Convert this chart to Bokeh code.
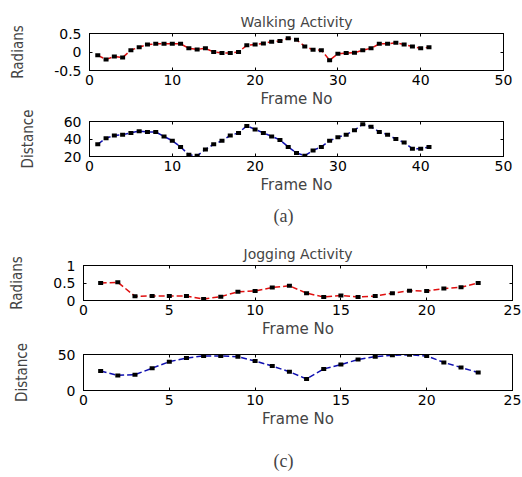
from bokeh.plotting import figure
from bokeh.layouts import column, row
from bokeh.models import FixedTicker, LinearAxis, Title, Range1d
from bokeh.embed import file_html
from bokeh.resources import INLINE

# ---------------- data ----------------
walk_frames = list(range(1, 42))
walk_radians = [-0.09, -0.2, -0.12, -0.15, 0.05, 0.13, 0.2, 0.22, 0.22, 0.22,
                0.22, 0.1, 0.07, 0.1, 0.0, -0.03, -0.03, 0.0, 0.18, 0.2,
                0.23, 0.28, 0.3, 0.37, 0.33, 0.15, 0.06, 0.05, -0.22, -0.05,
                -0.03, -0.02, 0.05, 0.1, 0.22, 0.22, 0.25, 0.2, 0.15, 0.1, 0.13]
walk_distance = [34, 41, 44, 45, 47, 49, 48, 48, 43, 38,
                 31, 22, 21, 28, 34, 38, 44, 47, 55, 51,
                 47, 43, 39, 31, 24, 21, 27, 31, 38, 42,
                 45, 50, 57, 54, 48, 45, 40, 36, 29, 29, 31]
jog_frames = list(range(1, 24))
jog_radians = [0.5, 0.52, 0.12, 0.13, 0.13, 0.13, 0.04, 0.11, 0.25, 0.27,
               0.37, 0.42, 0.21, 0.1, 0.14, 0.1, 0.13, 0.21, 0.28, 0.27,
               0.34, 0.38, 0.5]
jog_distance = [27, 21, 22, 31, 40, 45, 48, 48, 47, 41,
                34, 26, 16, 30, 36, 43, 47, 49, 49.5, 48,
                39, 32, 25]

walk_xticks = [0, 10, 20, 30, 40, 50]
jog_xticks = [0, 5, 10, 15, 20, 25]
rad_walk_yticks = [-0.5, 0, 0.5]
rad_walk_ylabels = {-0.5: "-0.5", 0: "0", 0.5: "0.5"}
dist_walk_yticks = [20, 40, 60]
rad_jog_yticks = [0, 0.5, 1]
rad_jog_ylabels = {0: "0", 0.5: "0.5", 1: "1"}
dist_jog_yticks = [0, 50]

SANS = "DejaVu Sans"
NARROW = "DejaVu Sans Condensed"
SERIF = "Liberation Serif"
RED = "#e01010"
BLUE = "#1010b0"


def panel(xs, ys, xr, yr, xticks, yticks, ylabel, color, width, height,
          left, right, top, bottom, title=None, caption=None, cap_offset=0,
          cap_standoff=10, overrides=None):
    p = figure(width=width, height=height, output_backend="svg",
               toolbar_location=None, x_range=Range1d(*xr), y_range=Range1d(*yr),
               min_border_left=left, min_border_right=right,
               min_border_top=top, min_border_bottom=bottom,
               x_axis_label="Frame No", y_axis_label=ylabel)
    p.grid.visible = False
    p.outline_line_color = "black"
    p.outline_line_width = 1
    p.background_fill_color = "white"
    p.border_fill_color = "white"

    for ax, ticks in ((p.xaxis[0], xticks), (p.yaxis[0], yticks)):
        ax.ticker = FixedTicker(ticks=ticks)
        ax.major_tick_in = 3
        ax.major_tick_out = 0
        ax.minor_tick_line_color = None
        ax.axis_line_color = "black"
        ax.major_tick_line_color = "black"
        ax.major_label_text_font = SANS
        ax.major_label_text_font_size = "14px"
        ax.major_label_text_color = "black"
    p.xaxis[0].major_label_standoff = 4
    p.xaxis[0].axis_label_standoff = 2
    p.xaxis[0].axis_label_text_font = SANS
    p.xaxis[0].axis_label_text_font_size = "15px"
    p.xaxis[0].axis_label_text_font_style = "normal"
    p.yaxis[0].major_label_standoff = 8
    p.yaxis[0].axis_label_standoff = 24
    p.yaxis[0].axis_label_text_font = NARROW
    p.yaxis[0].axis_label_text_font_size = "15px"
    p.yaxis[0].axis_label_text_font_style = "normal"
    if overrides:
        p.yaxis[0].major_label_overrides = overrides

    for side, ticks in (("above", xticks), ("right", yticks)):
        ax = LinearAxis(ticker=FixedTicker(ticks=ticks),
                        major_label_text_color=None,
                        major_label_standoff=0, major_tick_in=3,
                        major_tick_out=0, minor_tick_line_color=None,
                        axis_line_color="black")
        p.add_layout(ax, side)

    p.line(xs, ys, line_color=color, line_width=1.5, line_dash="6 3")
    p.rect(xs, ys, width=5, height=4, width_units="screen",
           height_units="screen", fill_color="black", line_color=None)

    if title:
        p.title.text = title
        p.title.align = "center"
        p.title.text_font = SANS
        p.title.text_font_size = "14px"
        p.title.text_font_style = "normal"
        p.title.standoff = 7
    if caption:
        cap = Title(text=caption, align="left", offset=cap_offset,
                    text_font=SERIF, text_font_size="18px",
                    text_font_style="normal", standoff=cap_standoff)
        p.add_layout(cap, "below")
    return p


def caption_fig(text, height, left, right, top, standoff, offset):
    c = figure(width=522, height=height, output_backend="svg",
               toolbar_location=None, x_axis_location=None,
               y_axis_location=None, min_border_left=left,
               min_border_right=right, min_border_top=top,
               min_border_bottom=0, title=text)
    c.grid.visible = False
    c.outline_line_color = None
    c.title.align = "left"
    c.title.offset = offset
    c.title.text_font = SERIF
    c.title.text_font_size = "18px"
    c.title.text_font_style = "normal"
    c.title.standoff = standoff
    return c


pa = panel(walk_frames, walk_radians, (0, 50), (-0.5, 0.5), walk_xticks,
           rad_walk_yticks, "Radians", RED, 522, 110, 89, 19, 33, 39,
           title="Walking Activity", overrides=rad_walk_ylabels)
pb = panel(walk_frames, walk_distance, (0, 50), (20, 60), walk_xticks,
           dist_walk_yticks, "Distance", BLUE, 522, 122, 89, 19, 11, 75,
           caption="(a)", cap_offset=184, cap_standoff=14)
pc = panel(jog_frames, jog_radians, (0, 25), (0, 1), jog_xticks,
           rad_jog_yticks, "Radians", RED, 522, 108, 83, 10, 33, 38,
           title="Jogging Activity", overrides=rad_jog_ylabels)
pd = panel(jog_frames, jog_distance, (0, 25), (0, 50), jog_xticks,
           dist_jog_yticks, "Distance", BLUE, 522, 90, 83, 10, 14, 38)
pcap = caption_fig("(c)", 47, 83, 10, 43, 6, 190)

walk_block = column(pa, pb, spacing=0)
jog_block = column(pc, pd, pcap, spacing=0)
layout = column(row(walk_block, spacing=0), row(jog_block, spacing=0), spacing=0)

with open("out.html", "w") as f:
    f.write(file_html(layout, INLINE))
